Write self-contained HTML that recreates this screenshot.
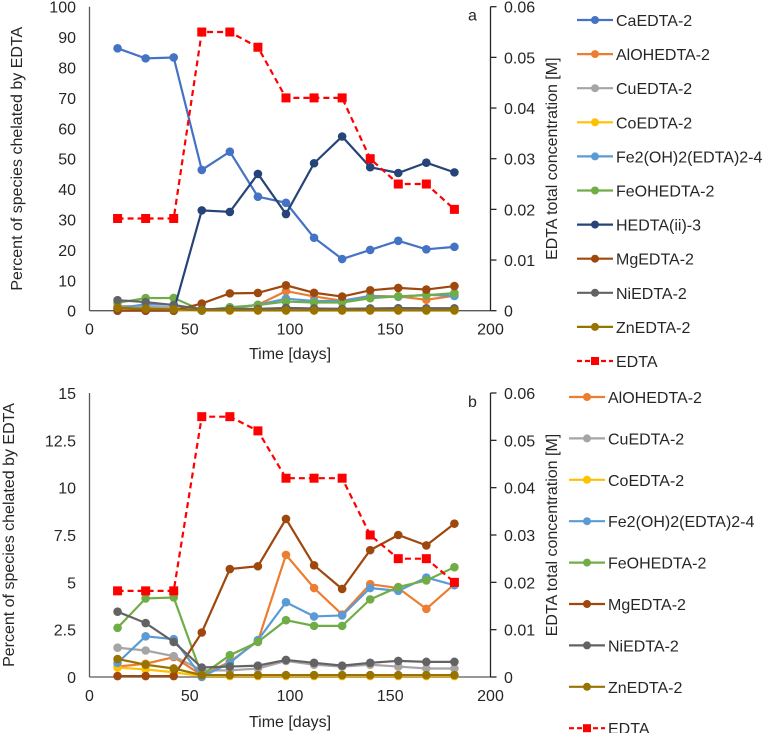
<!DOCTYPE html>
<html><head><meta charset="utf-8"><style>
body{margin:0;background:#fff;}
svg{display:block;font-family:"Liberation Sans",Arial,sans-serif;}
</style></head><body>
<svg id="chart" width="762" height="733" viewBox="0 0 762 733"></svg>
<script>
const days = [14,28,42,56,70,84,98,112,126,140,154,168,182];
const caEDTA = [86.3,83,83.3,46.3,52.3,37.5,35.5,24,17,20,23,20.2,21];
const hEDTA = [0,0,0,33,32.5,45,31.8,48.5,57.3,47.2,45.3,48.7,45.5];
const alEDTA = [0.55,0.7,1.05,0.1,0.8,1.9,6.45,4.7,3.3,4.9,4.7,3.6,4.9];
const cuEDTA = [1.55,1.4,1.1,0.35,0.35,0.45,0.85,0.65,0.55,0.65,0.55,0.45,0.45];
const coEDTA = [0.5,0.4,0.25,0.05,0.05,0.05,0.05,0.05,0.05,0.05,0.05,0.05,0.05];
const fe2EDTA = [0.75,2.15,2.0,0.0,0.75,1.95,3.95,3.2,3.25,4.7,4.55,5.25,4.85];
const feohEDTA = [2.6,4.15,4.2,0.1,1.15,1.85,3.0,2.7,2.7,4.1,4.75,5.1,5.8];
const mgEDTA = [0.05,0.05,0.05,2.35,5.7,5.85,8.35,5.9,4.65,6.7,7.5,6.95,8.1];
const niEDTA = [3.45,2.85,1.85,0.5,0.55,0.6,0.9,0.75,0.6,0.75,0.85,0.8,0.8];
const znEDTA = [0.95,0.65,0.45,0.1,0.1,0.1,0.1,0.1,0.1,0.1,0.1,0.1,0.1];
const edtaTotal = [0.0182,0.0182,0.0182,0.055,0.055,0.052,0.042,0.042,0.042,0.030,0.025,0.025,0.020];
const xTicks = [0,50,100,150,200];
const yTicksA = [0,10,20,30,40,50,60,70,80,90,100];
const yTicksB = [0,2.5,5,7.5,10,12.5,15];
const yTicksBLabels = ["0","2.5","5","7.5","10","12.5","15"];
const rTicks = [0,0.01,0.02,0.03,0.04,0.05,0.06];
const rTickLabels = ["0","0.01","0.02","0.03","0.04","0.05","0.06"];

const NS="http://www.w3.org/2000/svg";
const svg=document.getElementById('chart');
function el(tag,attrs,parent){const e=document.createElementNS(NS,tag);for(const k in attrs)e.setAttribute(k,attrs[k]);(parent||svg).appendChild(e);return e;}
function txt(s,attrs,parent){const t=el('text',attrs,parent);t.textContent=s;return t;}

const seriesA=[
 {n:'CaEDTA-2',d:caEDTA,c:'#4472C4',k:'ca'},
 {n:'AlOHEDTA-2',d:alEDTA,c:'#ED7D31',k:'al'},
 {n:'CuEDTA-2',d:cuEDTA,c:'#A5A5A5',k:'cu'},
 {n:'CoEDTA-2',d:coEDTA,c:'#FFC000',k:'co'},
 {n:'Fe2(OH)2(EDTA)2-4',d:fe2EDTA,c:'#5B9BD5',k:'fe2'},
 {n:'FeOHEDTA-2',d:feohEDTA,c:'#70AD47',k:'feoh'},
 {n:'HEDTA(ii)-3',d:hEDTA,c:'#264478',k:'hedta'},
 {n:'MgEDTA-2',d:mgEDTA,c:'#9E480E',k:'mg'},
 {n:'NiEDTA-2',d:niEDTA,c:'#636363',k:'ni'},
 {n:'ZnEDTA-2',d:znEDTA,c:'#997300',k:'zn'}];
const seriesB=seriesA.filter(s=>s.k!=='ca'&&s.k!=='hedta');

function panel(cfg){
 const g=el('g',{});
 
 
 const X0=89.5,X1=490.5,Y0=cfg.y0,Y1=cfg.y1;
 const xs=v=>X0+(v/200)*(X1-X0);
 const ys=v=>Y0-(v/cfg.ymax)*(Y0-Y1);
 const rs=v=>Y0-(v/0.06)*(Y0-Y1);
 // axes
 const la=el('line',{x1:X0,y1:Y1,x2:X0,y2:Y0,stroke:'#595959','stroke-width':1.3},g);
 
 const xa=el('line',{x1:X0,y1:Y0,x2:X1,y2:Y0,stroke:'#595959','stroke-width':1.3},g);
 
 const ra=el('line',{x1:X1,y1:Y1,x2:X1,y2:Y0,stroke:'#262626','stroke-width':1.3},g);
 
 cfg.yt.forEach((v,i)=>{const t=txt(cfg.ytl[i],{x:76,y:ys(v)+6,'text-anchor':'end','font-size':16,fill:'#262626'},g);
  });
 rTicks.forEach((v,i)=>{el('line',{x1:X1,y1:rs(v),x2:X1+6,y2:rs(v),stroke:'#262626','stroke-width':1.3},g);
  const t=txt(rTickLabels[i],{x:504,y:rs(v)+6,'font-size':16,fill:'#262626'},g);
  });
 xTicks.forEach(v=>{const t=txt(String(v),{x:xs(v),y:Y0+24,'text-anchor':'middle','font-size':16,fill:'#262626'},g);
  });
 const xt=txt('Time [days]',{x:290,y:cfg.xtY,'text-anchor':'middle','font-size':16,fill:'#262626'},g);
 
 const cy=(Y0+Y1)/2;
 const lt=txt('Percent of species chelated by EDTA',{x:0,y:0,'text-anchor':'middle','font-size':16,fill:'#262626',transform:`translate(${cfg.ltX},${cy}) rotate(-90)`},g);
 
 const rt=txt('EDTA total concentration [M]',{x:0,y:0,'text-anchor':'middle','font-size':16,fill:'#262626',transform:`translate(557,${cy}) rotate(-90)`},g);
 
 const pl=txt(cfg.label,{x:468,y:Y1+14,'font-size':16,fill:'#262626'},g);
 
 // series
 cfg.series.forEach(s=>{
  const sg=el('g',{},g);
  
  
  const pts=days.map((d,i)=>xs(d)+','+ys(s.d[i])).join(' ');
  el('polyline',{points:pts,fill:'none',stroke:s.c,'stroke-width':2.2},sg);
  days.forEach((d,i)=>{const c=el('circle',{cx:xs(d),cy:ys(s.d[i]),r:4.3,fill:s.c},sg);
   });
 });
 const eg=el('g',{},g);
 
 
 el('polyline',{points:days.map((d,i)=>xs(d)+','+rs(edtaTotal[i])).join(' '),fill:'none',stroke:'#FF0000','stroke-width':2.2,'stroke-dasharray':'6,4'},eg);
 days.forEach((d,i)=>{const r=el('rect',{x:xs(d)-4.5,y:rs(edtaTotal[i])-4.5,width:9,height:9,fill:'#FF0000'},eg);
  });
 // legend
 const lg=el('g',{},g);
 
 
 const items=cfg.series.map(s=>({n:s.n,c:s.c,dash:false})).concat([{n:'EDTA',c:'#FF0000',dash:true}]);
 items.forEach((it,i)=>{
  const y=cfg.legY0+i*cfg.legStep;
  const e=el('g',{},lg);
  
  
  el('line',{x1:cfg.legX,y1:y,x2:cfg.legX+36,y2:y,stroke:it.c,'stroke-width':2.2,'stroke-dasharray':it.dash?'5,3':'none'},e);
  if(it.dash)el('rect',{x:cfg.legX+14,y:y-4,width:8,height:8,fill:it.c},e);
  else el('circle',{cx:cfg.legX+18,cy:y,r:4,fill:it.c},e);
  txt(it.n,{x:cfg.legX+39,y:y+6,'font-size':16,fill:'#262626'},e);
 });
}
panel({name:'panel-a',y0:310.7,y1:6.7,ymax:100,yt:yTicksA,ytl:yTicksA.map(String),series:seriesA,label:'a',xtY:359,ltX:22,legX:577,legY0:20,legStep:34.1});
panel({name:'panel-b',y0:677,y1:393,ymax:15,yt:yTicksB,ytl:yTicksBLabels,series:seriesB,label:'b',xtY:727,ltX:14,legX:569,legY0:397,legStep:41.4});
</script>
</body></html>
